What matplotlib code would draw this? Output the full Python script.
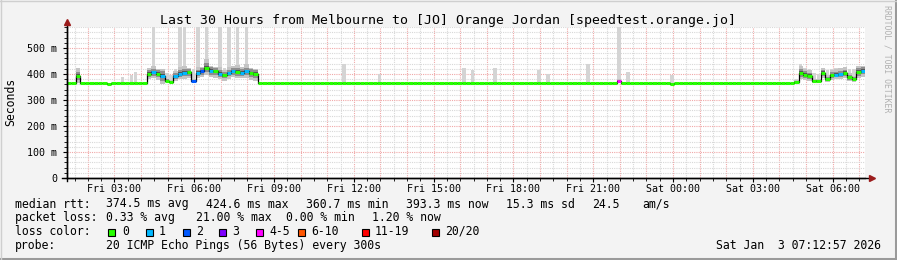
import numpy as np
import matplotlib
matplotlib.use("Agg")
import matplotlib.pyplot as plt
from matplotlib.patches import Rectangle
from matplotlib.lines import Line2D

W, H = 897, 260

# start of the window: Fri 01:12:57, 10 minute steps, 30 hours
t_start = 1 + 12 / 60 + 57 / 3600
step_h = 1 / 6

# median rtt (ms) per step
median_rtt = ([365, 365, 392] + [365] * 6 + [363] + [365] * 8
              + [402, 406, 401, 392, 375, 371, 392, 402, 405, 407, 374, 405, 410,
                 425, 412, 410, 402, 395, 404, 410, 408, 405, 410, 403, 400]
              + [365] * 81 + [372] + [365] * 11 + [361] + [365] * 27
              + [370, 405, 398, 393, 372, 374, 405, 382, 396, 398, 401, 405,
                 388, 380, 408, 412])

# lost pings (of 20) per step
lost_pings = ([0] * 18
              + [0, 1, 0, 1, 0, 0, 1, 1, 1, 0, 2, 1, 2, 0, 1, 0, 1, 0, 1, 1, 0, 1, 1, 0, 0]
              + [0] * 81 + [4] + [0] * 11 + [0] * 1 + [0] * 27
              + [0, 0, 0, 0, 0, 0, 0, 0, 0, 1, 1, 0, 0, 0, 0, 1])

# highest ping per step
smoke_hi = ([365, 365, 425] + [365] * 6 + [365] + [365, 365, 388, 365, 395, 408, 365, 365]
            + [422, 580, 420, 418, 405, 395, 418, 580, 580, 425, 420, 580, 428,
               580, 430, 428, 580, 425, 580, 430, 580, 428, 580, 425, 420]
            + [365] * 19 + [437] + [365] * 7 + [400] + [365] * 18 + [423, 365, 415]
            + [365] * 4 + [424] + [365] * 9 + [415, 365, 400] + [365] * 8 + [440]
            + [365] * 6 + [580, 365, 409] + [365] * 9 + [396] + [365] * 27
            + [380, 440, 425, 418, 405, 400, 425, 415, 420, 425, 425, 428,
               420, 418, 430, 432])

# lowest ping per step
smoke_lo = ([365] * 9 + [360] + [365] * 8
            + [380, 385, 378, 360, 368, 366, 375, 380, 382, 385, 368, 385, 390,
               395, 388, 385, 380, 375, 382, 388, 385, 383, 385, 378, 372]
            + [365] * 81 + [365] + [365] * 11 + [358] + [365] * 27
            + [365, 380, 378, 372, 365, 366, 385, 368, 378, 380, 382, 385,
               372, 368, 385, 390])

loss_colors = ['#26ff00', '#00b8ff', '#0059ff', '#7e00ff', '#ff00ff', '#ff5500', '#ff0000', '#a10000']
loss_labels = ['0', '1', '2', '3', '4-5', '6-10', '11-19', '20/20']
tick_hours = [3, 6, 9, 12, 15, 18, 21, 24, 27, 30]
tick_labels = ['Fri 03:00', 'Fri 06:00', 'Fri 09:00', 'Fri 12:00', 'Fri 15:00',
               'Fri 18:00', 'Fri 21:00', 'Sat 00:00', 'Sat 03:00', 'Sat 06:00']

plt.rcParams['font.family'] = 'DejaVu Sans Mono'


def fx(px):
    return px / W


def fy(py):
    return 1 - py / H


def bucket(n):
    if n <= 3:
        return n
    if n <= 5:
        return 4
    if n <= 10:
        return 5
    if n <= 19:
        return 6
    return 7


fig = plt.figure(figsize=(W / 100, H / 100), dpi=100)
fig.patch.set_facecolor('#f3f3f3')
ax = fig.add_axes([fx(67), fy(178), fx(865) - fx(67), fy(27) - fy(178)])
ax.set_facecolor('white')

med = np.array(median_rtt, dtype=float)
hi = np.array(smoke_hi, dtype=float)
lo = np.array(smoke_lo, dtype=float)
t = t_start + np.arange(len(med) + 1) * step_h

# grid
for h in np.arange(1.5, 32, 0.5):
    is_hour = abs(h - round(h)) < 1e-6
    ax.axvline(h, color='#f0a8a8' if is_hour else '#d8d8d8', lw=0.8,
               ls=(0, (1, 1)), zorder=0)
for v in range(20, 581, 20):
    ax.axhline(v, color='#f0a8a8' if v % 100 == 0 else '#d8d8d8', lw=0.8,
               ls=(0, (1, 1)), zorder=0)


def ext(a):
    return np.append(a, a[-1])


# smoke: light outer pings as columns, darker core around the median
ax.bar(t[:-1] + step_h * 0.1, hi - lo, bottom=lo, width=step_h * 0.8, align='edge',
       color='#d4d4d4', lw=0, zorder=1)
spread = med - lo
ax.fill_between(t, ext(lo), ext(np.minimum(hi, med + spread * 1.1)), step='post',
                color='#c4c4c4', lw=0, zorder=2)
ax.fill_between(t, ext(med - spread * 0.6), ext(np.minimum(hi, med + spread * 0.6)),
                step='post', color='#8e8e8e', lw=0, zorder=3)
ax.fill_between(t, ext(med - spread * 0.25), ext(np.minimum(hi, med + spread * 0.25)),
                step='post', color='#555555', lw=0, zorder=3)

# median line
ax.step(t, ext(med), where='post', color='black', lw=0.9, zorder=4)
cols = [loss_colors[bucket(n)] for n in lost_pings]
ax.hlines(med, t[:-1], t[1:], colors=cols, lw=2.2, zorder=5)

ax.set_xlim(t_start, t_start + 30)
ax.set_ylim(0, 581)
for s in ['top', 'right']:
    ax.spines[s].set_visible(False)
for s in ['bottom', 'left']:
    ax.spines[s].set_color('black')
    ax.spines[s].set_linewidth(1)
    ax.spines[s].set_zorder(6)

ax.set_xticks(tick_hours)
ax.set_xticklabels(tick_labels, fontsize=7.2)
ax.set_xticks(np.arange(1.5, 31.3, 0.5), minor=True)
ax.set_yticks(range(0, 501, 100))
ax.set_yticklabels(['0', '100 m', '200 m', '300 m', '400 m', '500 m'], fontsize=7.2)
ax.set_yticks(range(20, 581, 20), minor=True)
ax.tick_params(axis='x', which='major', length=3, pad=1.5, direction='out')
ax.tick_params(axis='x', which='minor', length=2, direction='out')
ax.tick_params(axis='y', which='major', length=3, pad=4, direction='out')
ax.tick_params(axis='y', which='minor', length=2, direction='out')

# axis arrows
fig.add_artist(Line2D([fx(62), fx(870)], [fy(178), fy(178)], color='black', lw=1))
fig.add_artist(Line2D([fx(67), fx(67)], [fy(181), fy(24)], color='black', lw=1))
fig.add_artist(Line2D([fx(872)], [fy(178)], marker='>', color='#9b1c1c', ms=4, lw=0))
fig.add_artist(Line2D([fx(67)], [fy(22)], marker='^', color='#9b1c1c', ms=4, lw=0))

fig.text(fx(448), fy(24), 'Last 30 Hours from Melbourne to [JO] Orange Jordan [speedtest.orange.jo]',
         ha='center', va='baseline', fontsize=9.5)
fig.text(fx(11), fy(102), 'Seconds', rotation=90, ha='center', va='center', fontsize=8.3)
fig.text(fx(887), fy(5), 'RRDTOOL / TOBI OETIKER', rotation=270, ha='center', va='top',
         fontsize=5.9, color='#b0b0b0')

# legend
fs = 8.3
rows = [
    (207.5, [(16, 'median rtt:'), (107, '374.5 ms avg'), (207, '424.6 ms max'),
             (307, '360.7 ms min'), (407, '393.3 ms now'), (507, '15.3 ms sd'),
             (593, '24.5'), (643, 'am/s')]),
    (221.3, [(16, 'packet loss:'), (107, '0.33 % avg'), (197, '21.00 % max'),
             (287, '0.00 % min'), (373, '1.20 % now')]),
    (235, [(16, 'loss color:')]),
    (249, [(16, 'probe:'), (107, '20 ICMP Echo Pings (56 Bytes) every 300s')]),
]
for y, items in rows:
    for x, s in items:
        fig.text(fx(x - 1), fy(y), s, ha='left', va='baseline', fontsize=fs)
fig.text(fx(881), fy(249), 'Sat Jan  3 07:12:57 2026', ha='right', va='baseline', fontsize=fs)

box_x = [108, 146, 183, 219, 256, 298, 362, 432]
lab_x = [123, 160, 197, 233, 270, 312, 376, 446]
for bx, lx, c, lab in zip(box_x, lab_x, loss_colors, loss_labels):
    fig.add_artist(Rectangle((fx(bx), fy(235.5)), 7 / W, 7 / H, facecolor=c,
                             edgecolor='black', lw=0.8, transform=fig.transFigure))
    fig.text(fx(lx - 1), fy(235), lab, ha='left', va='baseline', fontsize=fs)

# image frame
fig.add_artist(Line2D([0, 1], [fy(258.5), fy(258.5)], color='#9a9a9a', lw=2.2))
fig.add_artist(Line2D([fx(895.5), fx(895.5)], [0, 1], color='#9a9a9a', lw=2.2))
fig.add_artist(Line2D([0, 1], [fy(0.5), fy(0.5)], color='#cfcfcf', lw=1))
fig.add_artist(Line2D([fx(0.5), fx(0.5)], [0, 1], color='#cfcfcf', lw=1))

fig.savefig('out.png', dpi=100, facecolor=fig.get_facecolor())
